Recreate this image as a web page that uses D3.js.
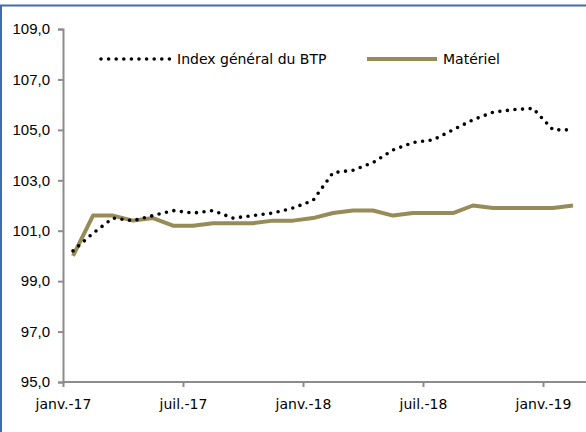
<!DOCTYPE html>
<html>
<head>
<meta charset="utf-8">
<script src="https://cdn.jsdelivr.net/npm/d3@7"></script>
<style>
  body { margin: 0; background: #fff; }
  svg { display: block; }
</style>
</head>
<body>
<script>
// monthly values, janv. 2017 -> févr. 2019
var months = ['2017-01','2017-02','2017-03','2017-04','2017-05','2017-06','2017-07','2017-08','2017-09','2017-10','2017-11','2017-12',
              '2018-01','2018-02','2018-03','2018-04','2018-05','2018-06','2018-07','2018-08','2018-09','2018-10','2018-11','2018-12',
              '2019-01','2019-02'];
var indexGeneral = [100.2, 100.9, 101.5, 101.4, 101.6, 101.8, 101.7, 101.8, 101.5, 101.6, 101.7, 101.9,
                    102.2, 103.3, 103.4, 103.7, 104.2, 104.5, 104.6, 105.0, 105.4, 105.7, 105.8, 105.85,
                    105.0, 105.0];
var materiel = [100.0, 101.6, 101.6, 101.4, 101.5, 101.2, 101.2, 101.3, 101.3, 101.3, 101.4, 101.4,
                101.5, 101.7, 101.8, 101.8, 101.6, 101.7, 101.7, 101.7, 102.0, 101.9, 101.9, 101.9,
                101.9, 102.0];
var xTickLabels = ['janv.-17', 'juil.-17', 'janv.-18', 'juil.-18', 'janv.-19'];
var xTickPos = [-0.5, 5.5, 11.5, 17.5, 23.5];
var yTicks = [95, 97, 99, 101, 103, 105, 107, 109];
var seriesNames = ['Index général du BTP', 'Matériel'];

var W = 586, H = 432;
var olive = '#978c58';
var axisGrey = '#8c8c8c';

var svg = d3.select('body').append('svg')
    .attr('width', W)
    .attr('height', H);

// frame (top and left edge only)
svg.append('line').attr('x1', 0).attr('x2', W).attr('y1', 5.5).attr('y2', 5.5)
    .attr('stroke', '#3f6bb0').attr('stroke-width', 2);
svg.append('line').attr('x1', 1).attr('x2', 1).attr('y1', 5).attr('y2', H)
    .attr('stroke', '#3f6bb0').attr('stroke-width', 2);

var x = d3.scaleLinear().domain([-0.5, 25.5]).range([63, 583]);
var y = d3.scaleLinear().domain([95, 109]).range([382, 29]);

// y axis
var yAxis = d3.axisLeft(y)
    .tickValues(yTicks)
    .tickSize(5)
    .tickPadding(8)
    .tickFormat(function(d) { return d3.format('.1f')(d).replace('.', ','); });
var gy = svg.append('g').attr('transform', 'translate(' + x(-0.5) + ',0)').call(yAxis);
gy.select('.domain').attr('stroke', axisGrey).attr('stroke-width', 2);
gy.selectAll('.tick line').attr('stroke', axisGrey).attr('stroke-width', 2);
gy.selectAll('.tick text')
    .attr('fill', '#000')
    .style('font-family', '"Liberation Sans", Arial, sans-serif')
    .style('font-size', '15px');

// x axis
var xAxis = d3.axisBottom(x)
    .tickValues(xTickPos)
    .tickSize(5)
    .tickPadding(12)
    .tickSizeOuter(0)
    .tickFormat(function(d, i) { return xTickLabels[i]; });
var gx = svg.append('g').attr('transform', 'translate(0,' + y(95) + ')').call(xAxis);
gx.select('.domain').attr('stroke', axisGrey).attr('stroke-width', 2)
    .attr('d', 'M' + x(-0.5) + ',0H' + W);
gx.selectAll('.tick line').attr('stroke', axisGrey).attr('stroke-width', 2);
gx.selectAll('.tick text')
    .attr('fill', '#000')
    .style('font-family', '"DejaVu Sans", Verdana, sans-serif')
    .style('font-size', '14px');

var line = d3.line()
    .x(function(d, i) { return x(i); })
    .y(function(d) { return y(d); });

svg.append('path')
    .datum(materiel)
    .attr('d', line)
    .attr('fill', 'none')
    .attr('stroke', olive)
    .attr('stroke-width', 4)
    .attr('stroke-linejoin', 'round');

svg.append('path')
    .datum(indexGeneral)
    .attr('d', line)
    .attr('fill', 'none')
    .attr('stroke', '#000')
    .attr('stroke-width', 3.6)
    .attr('stroke-linecap', 'round')
    .attr('stroke-dasharray', '0,7.6');

// legend
var legend = svg.append('g').style('font-family', '"DejaVu Sans", Verdana, sans-serif').style('font-size', '14px');
legend.append('line')
    .attr('x1', 101).attr('x2', 170).attr('y1', 59).attr('y2', 59)
    .attr('stroke', '#000').attr('stroke-width', 3.6)
    .attr('stroke-linecap', 'round').attr('stroke-dasharray', '0,7.6');
legend.append('text').attr('x', 177).attr('y', 64).text(seriesNames[0]);
legend.append('line')
    .attr('x1', 367).attr('x2', 437).attr('y1', 59).attr('y2', 59)
    .attr('stroke', olive).attr('stroke-width', 4);
legend.append('text').attr('x', 443).attr('y', 64).text(seriesNames[1]);
</script>
</body>
</html>
